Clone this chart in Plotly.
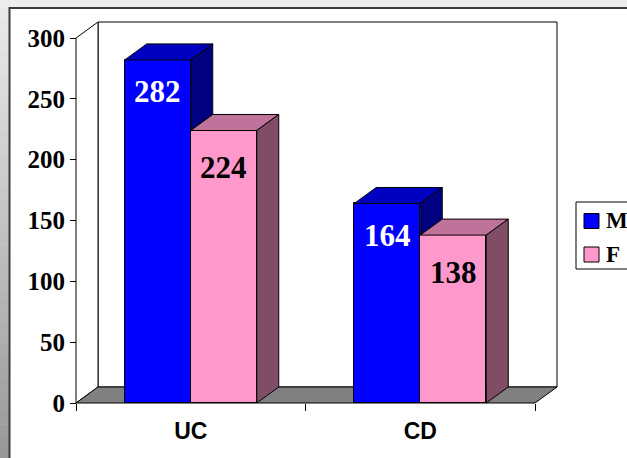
import plotly.graph_objects as go

# ---- data ----
categories = ["UC", "CD"]
series_names = ["M", "F"]
m_values = [282, 164]
f_values = [224, 138]
y_ticks = [0, 50, 100, 150, 200, 250, 300]

series_values = {"M": m_values, "F": f_values}
front_colors = {"M": "#0000FF", "F": "#FF99CC"}
top_colors = {"M": "#0000C0", "F": "#C0739A"}
side_colors = {"M": "#000080", "F": "#804D66"}
label_colors = {"M": "white", "F": "black"}
label_drop = {"M": 32, "F": 37}

# ---- geometry (pixels) ----
W, H = 627, 458
AX_LEFT, AX_BOTTOM = 76, 403          # front corner of the axes
PX_PER_CAT = 229.5                    # width of one category slot
PX_PER_UNIT = 365 / 300               # vertical scale
DEPTH_X, DEPTH_Y = 22, 16             # oblique depth offset of the 3D box
PAD = 4
BAR_W = 66 / PX_PER_CAT

n = len(categories)
DX = DEPTH_X / PX_PER_CAT
DY = DEPTH_Y / PX_PER_UNIT
YMAX = max(y_ticks)

x_lo = -PAD / PX_PER_CAT
x_hi = n + DX + PAD / PX_PER_CAT
y_lo = -PAD / PX_PER_UNIT
y_hi = YMAX + DY + PAD / PX_PER_UNIT

plot_l = AX_LEFT - PAD
plot_r = AX_LEFT + (n + DX) * PX_PER_CAT + PAD
plot_b = AX_BOTTOM + PAD
plot_t = AX_BOTTOM - (YMAX + DY) * PX_PER_UNIT - PAD


def px_x(px):
    return (px - plot_l) / (plot_r - plot_l)


def px_y(py):
    return (plot_b - py) / (plot_b - plot_t)


fig = go.Figure()

centers = [i + 0.5 for i in range(n)]
offsets = {s: (k - len(series_names) / 2) * BAR_W for k, s in enumerate(series_names)}

# front faces of the columns
for s in series_names:
    fig.add_trace(go.Bar(
        x=centers, y=series_values[s], name=s,
        width=BAR_W, offset=offsets[s], showlegend=False,
        marker=dict(color=front_colors[s], line=dict(color="black", width=1)),
    ))

# tops and right-hand sides of the columns
for i in range(n):
    for k, s in enumerate(series_names):
        v = series_values[s][i]
        x0 = centers[i] + offsets[s]
        x1 = x0 + BAR_W
        fig.add_trace(go.Scatter(
            x=[x0, x1, x1 + DX, x0 + DX, x0],
            y=[v, v, v + DY, v + DY, v],
            mode="lines", fill="toself", fillcolor=top_colors[s],
            line=dict(color="black", width=1), hoverinfo="skip", showlegend=False,
        ))
        # the part of the side hidden behind the neighbouring column is skipped
        lo = series_values[series_names[k + 1]][i] if k + 1 < len(series_names) else 0
        if lo < v:
            fig.add_trace(go.Scatter(
                x=[x1, x1 + DX, x1 + DX, x1, x1],
                y=[lo, lo + DY, v + DY, v, lo],
                mode="lines", fill="toself", fillcolor=side_colors[s],
                line=dict(color="black", width=1), hoverinfo="skip", showlegend=False,
            ))
        fig.add_annotation(
            x=x0 + BAR_W / 2, y=v, xref="x", yref="y", yshift=-label_drop[s],
            text=str(v), showarrow=False, yanchor="middle",
            font=dict(family="Liberation Serif", size=31, color=label_colors[s], weight="bold"),
        )

shapes = []


def poly(pts):
    return "M " + " L ".join(f"{x},{y}" for x, y in pts) + " Z"


# walls and floor of the 3D box
shapes.append(dict(type="path", xref="x", yref="y", layer="below",
                   path=poly([(DX, DY), (DX, YMAX + DY), (n + DX, YMAX + DY), (n + DX, DY)]),
                   fillcolor="white", line=dict(color="black", width=1)))
shapes.append(dict(type="path", xref="x", yref="y", layer="below",
                   path=poly([(0, 0), (0, YMAX), (DX, YMAX + DY), (DX, DY)]),
                   fillcolor="white", line=dict(color="black", width=1)))
shapes.append(dict(type="path", xref="x", yref="y", layer="below",
                   path=poly([(0, 0), (n, 0), (n + DX, DY), (DX, DY)]),
                   fillcolor="#808080", line=dict(color="black", width=1)))

# slide frame: grey strip on top, shaded strip on the left
shapes.append(dict(type="rect", xref="paper", yref="paper", layer="below",
                   x0=px_x(0), x1=px_x(W), y0=px_y(0), y1=px_y(8),
                   fillcolor="#ececec", line=dict(width=0)))
bands = 40
for b in range(bands):
    ya = 8 + (H - 8) * b / bands
    yb = 8 + (H - 8) * (b + 1) / bands
    t = (b + 0.5) / bands
    g = round(234 - (234 - 152) * t)
    shapes.append(dict(type="rect", xref="paper", yref="paper", layer="below",
                       x0=px_x(0), x1=px_x(9), y0=px_y(ya), y1=px_y(yb + 0.5),
                       fillcolor=f"rgb({g},{g},{g})", line=dict(width=0)))
shapes.append(dict(type="line", xref="paper", yref="paper", layer="below",
                   x0=px_x(9), x1=px_x(W), y0=px_y(8), y1=px_y(8),
                   line=dict(color="#3c3c3c", width=2)))
shapes.append(dict(type="line", xref="paper", yref="paper", layer="below",
                   x0=px_x(9.5), x1=px_x(9.5), y0=px_y(7), y1=px_y(H),
                   line=dict(color="#3c3c3c", width=2)))

# legend box with colour keys
LEG_LEFT, LEG_TOP, LEG_BOTTOM = 576, 202, 269
shapes.append(dict(type="rect", xref="paper", yref="paper", layer="above",
                   x0=px_x(LEG_LEFT), x1=px_x(W + 20), y0=px_y(LEG_TOP), y1=px_y(LEG_BOTTOM),
                   fillcolor="white", line=dict(color="black", width=1)))
key_rows = [221, 254.5]
for s, yc in zip(series_names, key_rows):
    shapes.append(dict(type="rect", xref="paper", yref="paper", layer="above",
                       x0=px_x(584), x1=px_x(599), y0=px_y(yc - 7.5), y1=px_y(yc + 7.5),
                       fillcolor=front_colors[s], line=dict(color="black", width=1)))
    fig.add_annotation(
        x=px_x(604), y=px_y(yc), xref="paper", yref="paper",
        text=s, showarrow=False, xanchor="left", yanchor="middle",
        font=dict(family="Liberation Serif", size=23, color="black", weight="bold"),
    )

fig.update_layout(
    width=W, height=H,
    margin=dict(l=plot_l, r=W - plot_r, t=plot_t, b=H - plot_b, autoexpand=False),
    paper_bgcolor="white", plot_bgcolor="rgba(0,0,0,0)",
    barmode="overlay", bargap=0,
    shapes=shapes,
    showlegend=False,
    xaxis=dict(
        range=[x_lo, x_hi], anchor="free", position=px_y(AX_BOTTOM),
        tickmode="array", tickvals=centers, ticktext=categories,
        ticks="", showline=False, showgrid=False, zeroline=False,
        ticklabelstandoff=12,
        tickfont=dict(family="Liberation Sans", size=23, color="black", weight="bold"),
        minor=dict(tick0=0, dtick=1, ticks="outside", ticklen=7, tickcolor="black",
                   tickwidth=1, showgrid=False),
        fixedrange=True,
    ),
    yaxis=dict(
        range=[y_lo, y_hi], anchor="free", position=px_x(AX_LEFT),
        tickmode="array", tickvals=y_ticks,
        ticks="outside", ticklen=6, tickcolor="black", tickwidth=1,
        showline=False, showgrid=False, zeroline=False,
        tickfont=dict(family="Liberation Serif", size=25, color="black", weight="bold"),
        fixedrange=True,
    ),
)

fig.write_html("out.html")
